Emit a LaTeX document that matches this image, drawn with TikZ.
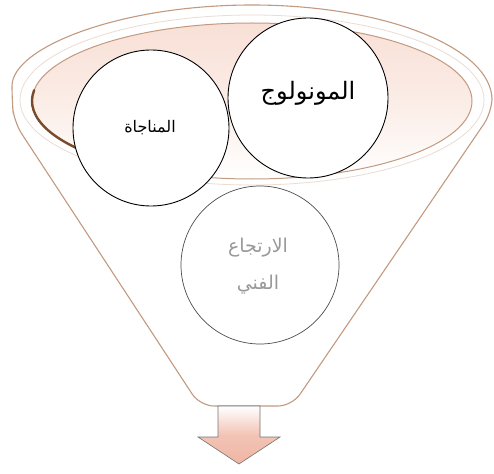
\documentclass[tikz,border=0pt]{standalone}
\usepackage{fontspec}
\usetikzlibrary{shapes.geometric}
\newfontfamily\arabicfont[Script=Arabic]{DejaVu Sans}
\TeXXeTstate=1
\definecolor{rimline}{HTML}{C39A80}
\definecolor{rimdark}{HTML}{7A4A2A}
\definecolor{innerpink}{HTML}{F8E0D6}
\definecolor{arrowfill}{HTML}{EFB5A3}
\definecolor{graytext}{HTML}{999999}
\tikzset{
  bubble/.style={circle, draw=black, line width=0.9pt, fill=white, inner sep=0pt},
  labeltext/.style={font=\arabicfont, align=center}
}
\begin{document}
\begin{tikzpicture}[x=1pt,y=-1pt]
\useasboundingbox (0,0) rectangle (494,473);
% funnel outline (rim + body)
\path[fill=white, draw=rimline, line width=1.1pt, rounded corners=14]
  (245,406) -- (200,406) -- (14,122) -- (12,100)
  [sharp corners] arc[start angle=180, end angle=360, x radius=240, y radius=95]
  [rounded corners=14] -- (492,112) -- (292,406) -- cycle;
% inner rim band line
\draw[rimline!35, line width=0.8pt] (252,100) ellipse[x radius=232, y radius=85];
% inner ellipse (opening)
\shade[top color=innerpink, bottom color=white, middle color=innerpink!60]
  (252,101) ellipse[x radius=220, y radius=78];
\draw[rimline, line width=1pt] (252,101) ellipse[x radius=220, y radius=78];
\draw[rimdark, line width=2.4pt, line cap=round]
  (252,101) ++(188:220 and 78) arc[start angle=188, end angle=128, x radius=220, y radius=78];
\node[ellipse, minimum width=440, minimum height=156, inner sep=0pt] (inner) at (252,101) {};
% circles
\node[bubble, minimum size=156] (c1) at (151,128) {};
\node[bubble, minimum size=160] (c2) at (308,98) {};
\node[bubble, minimum size=158, draw=black!70, line width=0.7pt] (c3) at (260,265) {};
\node[labeltext, font=\arabicfont\fontsize{16}{19}\selectfont] at (150,128) {\beginR المناجاة\endR};
\node[labeltext, font=\arabicfont\fontsize{24}{28}\selectfont] at (308,93) {\beginR المونولوج\endR};
\node[labeltext, text=graytext, font=\arabicfont\fontsize{19}{37}\selectfont] at (258,266) {\beginR الارتجاع\endR\\\beginR الفني\endR};
% arrow
\shade[top color=white, bottom color=arrowfill, middle color=arrowfill!80, draw=black!55, line width=0.6pt]
  (218,406) -- (260,406) -- (260,437) -- (280,437) -- (239,464) -- (198,437) -- (218,437) -- cycle;
\end{tikzpicture}
\end{document}
